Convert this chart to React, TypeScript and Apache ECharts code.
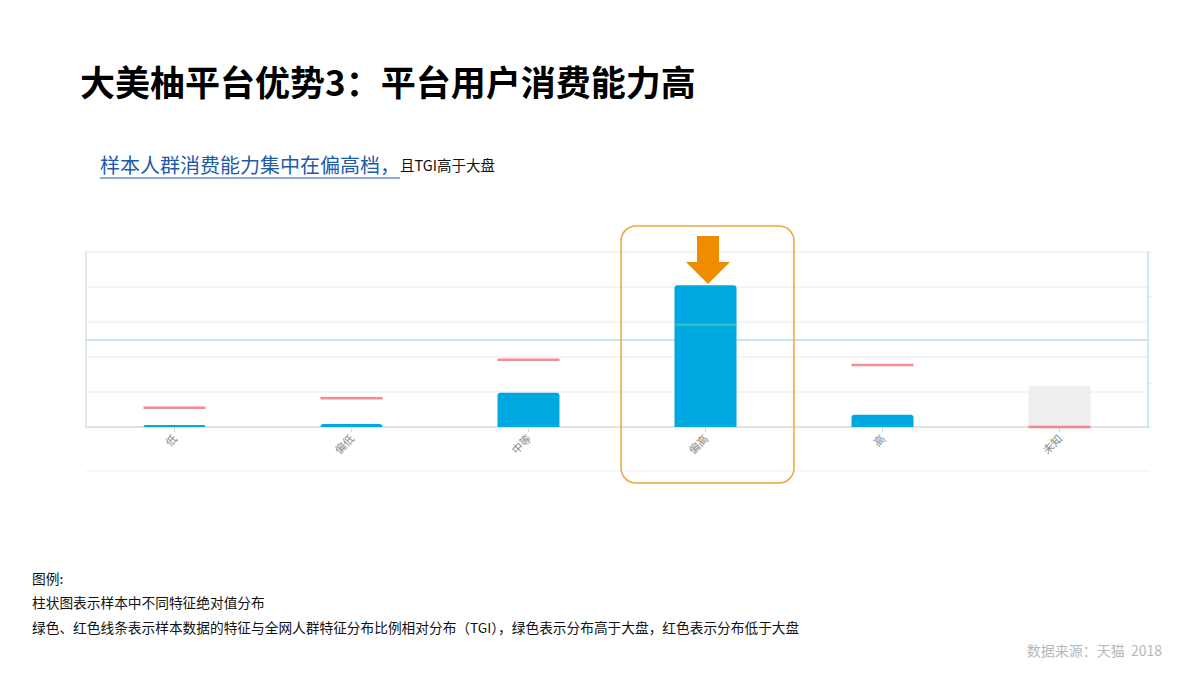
import React, { useEffect, useRef } from "react";
import * as echarts from "echarts";

const categories = ["低", "偏低", "中等", "偏高", "高", "未知"];
const shareValues = [0.9, 1.3, 14.7, 60.8, 5.2, 17.7];
const tgiValues = [22, 33, 77, 117, 71, 0];
const tgiBaseline = 100;
const legendLines = [
  "图例:",
  "柱状图表示样本中不同特征绝对值分布",
  "绿色、红色线条表示样本数据的特征与全网人群特征分布比例相对分布（TGI），绿色表示分布高于大盘，红色表示分布低于大盘",
];
const titleText = "大美柚平台优势3：平台用户消费能力高";
const subtitleBlue = "样本人群消费能力集中在偏高档，";
const subtitleBlack = "且TGI高于大盘";
const sourceText = "数据来源：天猫  2018";

const FONT = '"Noto Sans CJK SC", "Noto Sans", sans-serif';

export default function App() {
  const ref = useRef<HTMLDivElement>(null);
  useEffect(() => {
    if (!ref.current) return;
    const chart = echarts.init(ref.current, null, { renderer: "svg" });
    const option: any = {
      animation: false,
      backgroundColor: "#ffffff",
      textStyle: { fontFamily: FONT },
      grid: { left: 86, right: 52, top: 252, height: 175, containLabel: false },
      xAxis: {
        type: "category",
        data: categories,
        axisLine: { show: true, lineStyle: { color: "#e2e2e2", width: 2 } },
        axisTick: { show: true, alignWithLabel: true, length: 5, lineStyle: { color: "#d8d8d8" } },
        axisLabel: { rotate: 45, color: "#8a8a8a", fontSize: 11, margin: 9, fontFamily: FONT },
        splitLine: { show: false },
      },
      yAxis: [
        {
          type: "value",
          min: 0,
          max: 75,
          interval: 15,
          axisLine: { show: true, lineStyle: { color: "#e8e8e8", width: 2 } },
          axisTick: { show: false },
          axisLabel: { show: false },
          splitLine: { show: true, lineStyle: { color: "#f1f1f1", width: 1.5 } },
        },
        {
          type: "value",
          min: 0,
          max: 200,
          interval: 50,
          position: "right",
          axisLine: { show: true, lineStyle: { color: "#cfe9f7", width: 2 } },
          axisTick: { show: true, length: 3, lineStyle: { color: "#cfe9f7" } },
          axisLabel: { show: false },
          splitLine: { show: false },
        },
      ],
      series: [
        {
          type: "line",
          yAxisIndex: 1,
          data: [],
          z: 1,
          silent: true,
          markLine: {
            z: 1,
            silent: true,
            symbol: ["none", "none"],
            label: { show: false },
            lineStyle: { color: "#c8e6f6", width: 2, type: "solid" },
            data: [{ yAxis: tgiBaseline }],
          },
        },
        {
          type: "bar",
          yAxisIndex: 0,
          barWidth: 62,
          data: shareValues.map((v, i) => ({
            value: v,
            itemStyle: {
              color: categories[i] === "未知" ? "#eeeeee" : "#00a8e1",
              borderRadius: [3, 3, 0, 0],
            },
          })),
          z: 2,
        },
        {
          type: "scatter",
          yAxisIndex: 1,
          symbol: "rect",
          symbolSize: [62, 2.5],
          data: tgiValues.map((v) => ({
            value: v,
            itemStyle: { color: v >= tgiBaseline ? "#3fc3b4" : "#f26f73" },
          })),
          z: 4,
        },
      ],
      graphic: [
        {
          type: "text",
          left: 80,
          top: 63,
          style: { text: titleText, fill: "#000000", font: `bold 35px ${FONT}` },
        },
        {
          type: "text",
          left: 100,
          top: 154,
          style: { text: subtitleBlue, fill: "#1e5aa8", font: `20px ${FONT}` },
        },
        {
          type: "line",
          shape: { x1: 100, y1: 178, x2: 400, y2: 178 },
          style: { stroke: "#1e5aa8", lineWidth: 1 },
        },
        {
          type: "text",
          left: 400,
          top: 157,
          style: { text: subtitleBlack, fill: "#111111", font: `14.5px ${FONT}` },
        },
        {
          type: "line",
          shape: { x1: 86, y1: 471, x2: 1150, y2: 471 },
          style: { stroke: "#f4f4f4", lineWidth: 1.5 },
        },
        {
          type: "rect",
          shape: { x: 621, y: 226, width: 173, height: 257, r: 15 },
          style: { fill: "none", stroke: "#f0a43a", lineWidth: 1.5 },
          z: 10,
        },
        {
          type: "polygon",
          shape: {
            points: [
              [697, 236],
              [719, 236],
              [719, 262],
              [730, 262],
              [708, 284],
              [686, 262],
              [697, 262],
            ],
          },
          style: { fill: "#ee8c00" },
          z: 10,
        },
        ...legendLines.map((t, i) => ({
          type: "text",
          left: 32,
          top: 571 + i * 24.5,
          style: { text: t, fill: "#111111", font: `13.7px ${FONT}` },
        })),
        {
          type: "text",
          right: 38,
          top: 643,
          style: { text: sourceText, fill: "#b8b8b8", font: `14px ${FONT}` },
        },
      ],
    };
    chart.setOption(option);
    return () => chart.dispose();
  }, []);
  return (
    <div
      ref={ref}
      style={{ position: "fixed", left: 0, top: 0, width: 1200, height: 675, background: "#fff" }}
    />
  );
}
